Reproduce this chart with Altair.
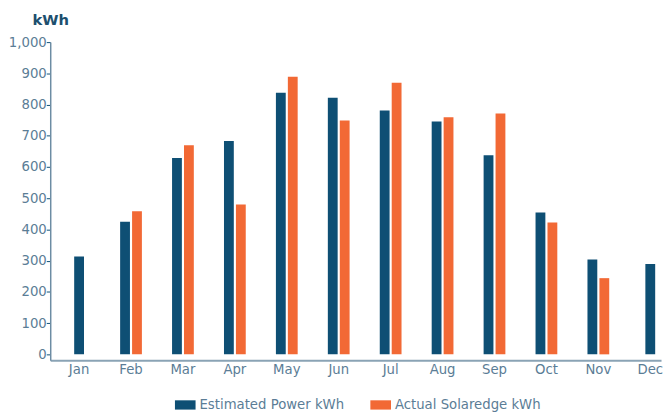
import altair as alt
import pandas as pd

months = ["Jan", "Feb", "Mar", "Apr", "May", "Jun", "Jul", "Aug", "Sep", "Oct", "Nov", "Dec"]
estimated = [313, 425, 629, 683, 838, 822, 781, 746, 638, 454, 304, 289]
actual = [None, 458, 670, 480, 889, 749, 870, 759, 771, 422, 244, None]
series_names = ["Estimated Power kWh", "Actual Solaredge kWh"]
colors = ["#0e4f74", "#f26935"]
y_ticks = [0, 100, 200, 300, 400, 500, 600, 700, 800, 900, 1000]

rows = []
for m, e, a in zip(months, estimated, actual):
    both = e is not None and a is not None
    if e is not None:
        rows.append({"month": m, "series": series_names[0], "kwh": e, "slot": "a" if both else "b"})
    if a is not None:
        rows.append({"month": m, "series": series_names[1], "kwh": a, "slot": "c" if both else "b"})
df = pd.DataFrame(rows)

FONT = "DejaVu Sans"
axis_col = "#5b7d96"
FS = 13.5

chart = alt.Chart(df).mark_bar(width=10).encode(
    x=alt.X("month:N", sort=months,
            scale=alt.Scale(paddingInner=0.655, paddingOuter=0.209, align=0.917),
            axis=alt.Axis(title=None, labelAngle=0, ticks=False, labelPadding=2,
                          domainColor="#8aa3b5", domainWidth=2)),
    xOffset=alt.XOffset("slot:N", scale=alt.Scale(domain=["a", "b", "c"], paddingInner=0, paddingOuter=0)),
    y=alt.Y("kwh:Q", scale=alt.Scale(domain=[-19, 1000], nice=False, zero=False),
            axis=alt.Axis(values=y_ticks, format=",.0f", title="kWh", titleAngle=0,
                          titleAlign="center", titleX=0, titleY=-23, titleBaseline="middle",
                          titleFont=FONT, titleFontSize=15, titleFontWeight="bold",
                          titleColor="#1d4f6e", grid=False, tickColor="#0e4f74",
                          tickSize=4, labelPadding=0, domainColor="#6c8ca3", domainWidth=1.5)),
    color=alt.Color("series:N", sort=series_names,
                    scale=alt.Scale(domain=series_names, range=colors),
                    legend=alt.Legend(title=None, orient="none", direction="horizontal",
                                      legendX=127, legendY=359, padding=0,
                                      symbolType="M-1,-0.45H1V0.45H-1Z", symbolSize=441,
                                      symbolStrokeWidth=0, columnPadding=26, labelOffset=4,
                                      labelFont=FONT, labelFontSize=FS, labelColor=axis_col)),
).properties(width=622, height=324, padding={"left": 0, "top": 1, "right": 0, "bottom": 0}).configure_view(
    stroke=None
).configure_axis(
    labelFont=FONT, labelFontSize=FS, labelColor=axis_col
)

chart.save("out.html", embed_options={"renderer": "svg", "actions": False})
